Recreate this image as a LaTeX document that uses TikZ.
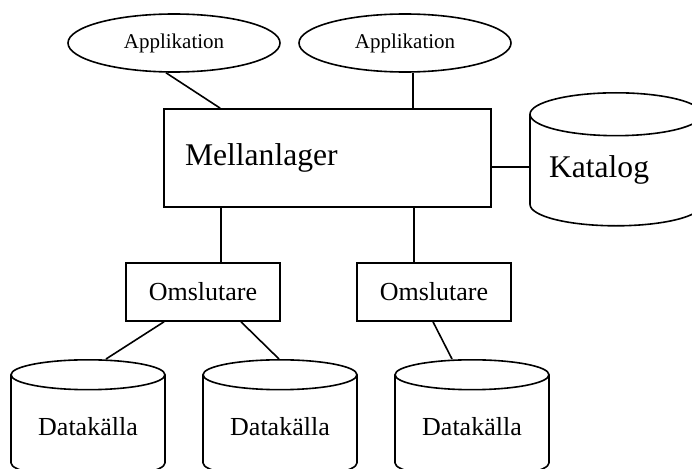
\documentclass[tikz,border=0pt]{standalone}
\usepackage{fontspec}
\setmainfont{Liberation Serif}
\usetikzlibrary{shapes.geometric}

\begin{document}
\begin{tikzpicture}[x=1pt,y=-1pt,line width=1.6pt,
    app/.style={ellipse,draw,minimum width=212pt,minimum height=58pt,inner sep=0pt,font=\fontsize{21}{21}\selectfont},
    wrap/.style={rectangle,draw,minimum width=154pt,minimum height=58pt,inner sep=0pt,font=\fontsize{26}{26}\selectfont},
    source/.style={cylinder,shape border rotate=90,draw,aspect=0.30,minimum width=154pt,minimum height=118pt,inner sep=0pt,anchor=north,font=\fontsize{26}{26}\selectfont}]
    \useasboundingbox (0,0) rectangle (692,468);

    \node at (174,43) [app] (app1) {Applikation};
    \node at (405,43) [app] (app2) {Applikation};

    \node at (327.5,158) [rectangle,draw,text width=285pt,align=left,inner xsep=21pt,minimum height=98pt,font=\fontsize{31.6}{31.6}\selectfont] (mell) {Mellanlager};
    \node at (616,92) [cylinder,shape border rotate=90,draw,aspect=0.32,minimum width=172pt,minimum height=133pt,inner sep=0pt,anchor=north,text width=134pt,align=left,font=\fontsize{31.6}{31.6}\selectfont] (kat) {Katalog};

    \node at (203,292) [wrap] (om1) {Omslutare};
    \node at (434,292) [wrap] (om2) {Omslutare};

    \node at (88,359) [source] (dk1) {Datakälla};
    \node at (280,359) [source] (dk2) {Datakälla};
    \node at (472,359) [source] (dk3) {Datakälla};

    \draw ([xshift=-8pt]app1.south) -- ([xshift=57pt]mell.north west);
    \draw ([xshift=250pt]mell.north west) -- ([xshift=250pt]mell.north west |- app2.south);
    \draw ([yshift=-9pt]mell.east) -- ([yshift=-9pt]mell.east -| kat.west);
    \draw ([xshift=18pt]om1.north) -- ([xshift=18pt]om1.north |- mell.south);
    \draw ([xshift=-20pt]om2.north) -- ([xshift=-20pt]om2.north |- mell.south);
    \draw ([xshift=-39pt]om1.south) -- ([xshift=18pt]dk1.north);
    \draw ([xshift=38pt]om1.south) -- ([xshift=-1pt]dk2.north);
    \draw ([xshift=-1pt]om2.south) -- ([xshift=-20pt]dk3.north);
\end{tikzpicture}
\end{document}
